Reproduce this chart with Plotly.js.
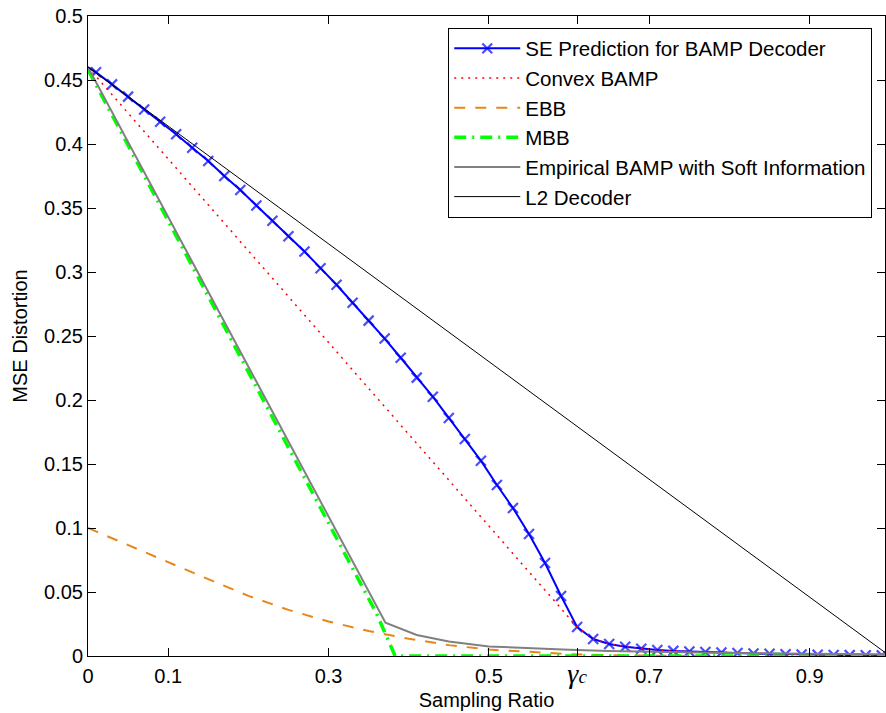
<!DOCTYPE html>
<html>
<head>
<meta charset="utf-8">
<script src="https://cdn.plot.ly/plotly-3.0.1.min.js"></script>
<style>html,body{margin:0;padding:0;background:#fff;}#chart{width:886px;height:713px;}</style>
</head>
<body>
<div id="chart"></div>
<script>
// SE Prediction for BAMP decoder (first point at 0 has no marker)
const seX = [0, 0.01,0.03,0.05,0.07,0.09,0.11,0.13,0.15,0.17,0.19,0.21,0.23,0.25,0.27,0.29,0.31,0.33,0.35,0.37,0.39,0.41,0.43,0.45,0.47,0.49,0.51,0.53,0.55,0.57,0.59,0.61,0.63,0.65,0.67,0.69,0.71,0.73,0.75,0.77,0.79,0.81,0.83,0.85,0.87,0.89,0.91,0.93,0.95,0.97,0.99];
const seY = [0.46, 0.456,0.4466,0.437,0.427,0.4174,0.4076,0.397,0.3867,0.375,0.364,0.352,0.340,0.328,0.316,0.303,0.290,0.276,0.262,0.248,0.233,0.2175,0.2026,0.186,0.1695,0.1526,0.1336,0.1156,0.0953,0.0727,0.0469,0.0227,0.0133,0.0094,0.0072,0.0057,0.0047,0.0040,0.0035,0.0031,0.0027,0.0023,0.0020,0.0017,0.0014,0.0012,0.0010,0.0008,0.0007,0.0006,0.0005];

// Convex BAMP: straight from origin value to gamma_c, then follows SE curve
const gammaC = 0.61;
const convexStartX = [0];
const convexStartY = [0.46];

// EBB
const ebbX = [0,0.05,0.1,0.15,0.2,0.25,0.3,0.35,0.4,0.45,0.5,0.55,0.6,0.65,0.7,0.75];
const ebbY = [0.1,0.0865,0.073,0.06,0.047,0.036,0.027,0.0195,0.0135,0.0085,0.005,0.003,0.0015,0.0006,0.0002,0];

// MBB
const mbbX = [0,0.36,0.383,0.45,0.6,0.8,1.0];
const mbbY = [0.458,0.033,0,0,0,0,0];

// Empirical BAMP with Soft Information
const empX = [0,0.371,0.41,0.45,0.5,0.55,0.6,0.65,0.7,0.75,0.8,0.9,1.0];
const empY = [0.46,0.026,0.0164,0.0113,0.0074,0.006,0.0049,0.004,0.0033,0.0027,0.0023,0.0018,0.0014];

// L2 Decoder
const l2X = [0,1];
const l2Y = [0.46,0];

// Axis ticks
const xTickVals = [0,0.1,0.3,0.5,gammaC,0.7,0.9];
const xTickText = ['0','0.1','0.3','0.5','<span style="font-family:Liberation Serif,DejaVu Serif,serif;font-size:28px"><i>γ</i></span><span style="font-family:Liberation Serif,DejaVu Serif,serif;font-size:19px"><i>c</i></span>','0.7','0.9'];
const yTickVals = [0,0.05,0.1,0.15,0.2,0.25,0.3,0.35,0.4,0.45,0.5];
const yTickText = ['0','0.05','0.1','0.15','0.2','0.25','0.3','0.35','0.4','0.45','0.5'];

const gi = seX.indexOf(gammaC);
const convexX = convexStartX.concat(seX.slice(gi));
const convexY = convexStartY.concat(seY.slice(gi));
const seMarkerSize = seX.map((v,i)=> i===0 ? 0 : 10);

const traces = [
  {x: seX, y: seY, name: 'SE Prediction for BAMP Decoder', mode: 'lines+markers',
   line: {color: '#0000ff', width: 2}, marker: {symbol: 'x-thin-open', size: seMarkerSize, color: '#0000ff', line: {color: '#0000ff', width: 2.2}}},
  {x: convexX, y: convexY, name: 'Convex BAMP', mode: 'lines',
   line: {color: '#ff0000', width: 1.5, dash: '2px,5px'}},
  {x: ebbX, y: ebbY, name: 'EBB', mode: 'lines',
   line: {color: '#e8861a', width: 2, dash: '11px,10px'}},
  {x: mbbX, y: mbbY, name: 'MBB', mode: 'lines',
   line: {color: '#00ff00', width: 3.5, dash: '12px,6px,2px,6px'}},
  {x: empX, y: empY, name: 'Empirical BAMP with Soft Information', mode: 'lines',
   line: {color: '#808080', width: 2}},
  {x: l2X, y: l2Y, name: 'L2 Decoder', mode: 'lines',
   line: {color: '#000000', width: 1}}
];

const FONT = 'Liberation Sans, Arial, sans-serif';
const axisCommon = {
  showgrid: false, zeroline: false, showline: true, linecolor: '#000', linewidth: 1,
  mirror: 'ticks', ticks: 'inside', ticklen: 8, tickcolor: '#000', tickwidth: 1,
  tickfont: {family: FONT, size: 20, color: '#000'}
};

const layout = {
  width: 886, height: 713,
  margin: {l: 88, r: 1, t: 16, b: 57},
  paper_bgcolor: '#fff', plot_bgcolor: '#fff',
  font: {family: FONT, size: 20, color: '#000'},
  xaxis: Object.assign({}, axisCommon, {
    range: [0, 0.994], tickmode: 'array', tickvals: xTickVals, ticktext: xTickText,
    ticklabelstandoff: 2,
    title: {text: 'Sampling Ratio', font: {size: 20}, standoff: 4}
  }),
  yaxis: Object.assign({}, axisCommon, {
    range: [0, 0.5], tickmode: 'array', tickvals: yTickVals, ticktext: yTickText,
    title: {text: 'MSE Distortion', font: {size: 20}, standoff: 11}
  }),
  showlegend: true,
  legend: {
    x: 0.452, y: 0.982, xanchor: 'left', yanchor: 'top',
    bgcolor: '#fff', bordercolor: '#000', borderwidth: 1,
    font: {size: 20.5, color: '#000'}, itemwidth: 66, tracegroupgap: 0
  }
};

Plotly.newPlot('chart', traces, layout, {staticPlot: true});
</script>
</body>
</html>
